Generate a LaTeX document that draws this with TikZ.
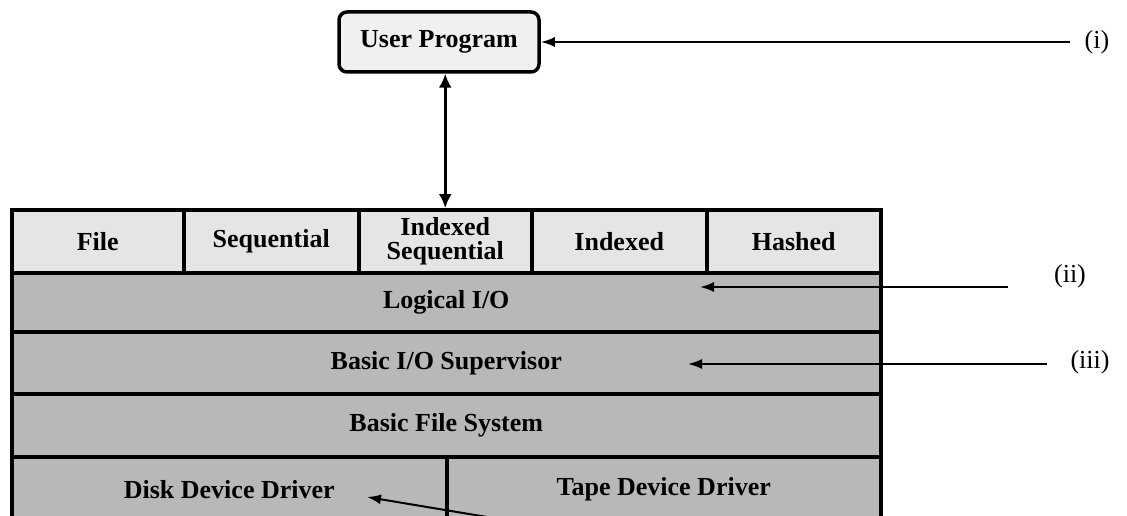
\documentclass[tikz,border=0pt]{standalone}
\usepackage{fontspec}
\setmainfont{Liberation Serif}
\usetikzlibrary{arrows.meta}

\tikzset{
  cell/.style={draw, line width=3.5pt, anchor=north west, inner sep=0pt,
    align=center, font=\fontsize{26}{24}\selectfont\bfseries},
  headcell/.style={cell, fill=black!10},
  layercell/.style={cell, fill=black!28},
  progbox/.style={draw, line width=3.5pt, rounded corners=8pt, fill=black!6,
    minimum width=200pt, minimum height=60pt, inner sep=0pt,
    font=\fontsize{26}{26}\selectfont\bfseries},
  tag/.style={font=\fontsize{26}{26}\selectfont},
  conn/.style={line width=2pt, -{Latex[length=14pt,width=10pt]}}
}

\begin{document}
\begin{tikzpicture}[x=1pt,y=-1pt]
	\useasboundingbox (0,0) rectangle (1127,516);

	\def \tabl {10}
	\def \tabr {879}

	% the program on top
	\node[progbox] (user) at (439,42) {User Program};

	% first row: the file organisations
	\foreach \name/\xa/\xb/\txt in {file/10/182/File, seq/182/357/Sequential,
			idxseq/357/530/{Indexed\\Sequential}, idx/530/705/Indexed, hash/705/879/Hashed} {
		\node[headcell, minimum width={(\xb-\xa)*1pt}, minimum height=63pt]
			(\name) at (\xa,208) {\txt};
	}

	% the layers below
	\node[layercell, minimum width={(\tabr-\tabl)*1pt}, minimum height=59pt]
		(logio) at (\tabl,271) {Logical I/O};
	\node[layercell, minimum width={(\tabr-\tabl)*1pt}, minimum height=62pt]
		(supv) at (\tabl,330) {Basic I/O Supervisor};
	\node[layercell, minimum width={(\tabr-\tabl)*1pt}, minimum height=63pt]
		(bfs) at (\tabl,392) {Basic File System};
	\node[layercell, minimum width=435pt, minimum height=65pt]
		(disk) at (\tabl,455) {Disk Device Driver};
	\node[layercell, minimum width={(\tabr-445)*1pt}, minimum height=65pt]
		(tape) at (445,455) {Tape Device Driver};

	% program <-> table
	\draw[line width=2.5pt, {Latex[length=14pt,width=13pt]}-{Latex[length=14pt,width=13pt]}]
		(idxseq.north) -- (idxseq.north |- user.south);

	% the pointers
	\node[tag] (i) at (1097,42) {(i)};
	\node[tag] (ii) at (1070,276) {(ii)};
	\node[tag] (iii) at (1090,362) {(iii)};

	\coordinate (i-end) at (1070,42);
	\coordinate (ii-end) at (1008,287);
	\coordinate (ii-tip) at (700,287);
	\coordinate (iii-end) at (1047,364);
	\coordinate (iii-tip) at (688,364);
	\coordinate (iv-end) at (505,520);
	\coordinate (iv-tip) at (367,497);

	\draw[conn] (i-end) -- (user.east);
	\draw[conn] (ii-end) -- (ii-tip);
	\draw[conn] (iii-end) -- (iii-tip);
	\draw[conn] (iv-end) -- (iv-tip);

\end{tikzpicture}
\end{document}
